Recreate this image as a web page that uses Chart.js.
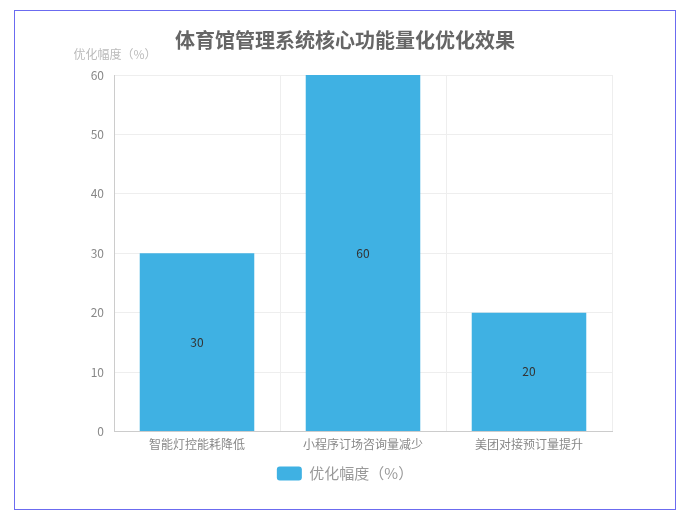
<!DOCTYPE html>
<html lang="zh">
<head>
    <meta charset="UTF-8">
    <title>体育馆管理系统核心功能量化优化效果</title>
    <script src="https://cdn.jsdelivr.net/npm/chart.js"></script>
    <style>
        body {
            margin: 0;
            padding: 0;
            background: #ffffff;
            font-family: 'Noto Sans CJK SC', sans-serif;
        }
        .box {
            position: absolute;
            left: 14px;
            top: 10px;
            width: 660px;
            height: 498px;
            border: 1px solid #6b6bf0;
        }
    </style>
</head>
<body>
    <div class="box">
        <canvas id="effectChart" width="660" height="498"></canvas>
    </div>

    <script>
        const categories = ['智能灯控能耗降低', '小程序订场咨询量减少', '美团对接预订量提升'];
        const values = [30, 60, 20];
        const seriesName = '优化幅度（%）';
        const yTicks = [0, 10, 20, 30, 40, 50, 60];

        const FONT = "'Noto Sans CJK SC', sans-serif";

        // axis name above the y axis + value labels in the middle of bars
        const extras = {
            id: 'extras',
            afterDatasetsDraw(chart) {
                const ctx = chart.ctx;
                const area = chart.chartArea;
                ctx.save();
                ctx.font = '12px ' + FONT;
                ctx.fillStyle = '#bbbbbb';
                ctx.textAlign = 'center';
                ctx.textBaseline = 'middle';
                ctx.fillText(seriesName, area.left + 1, area.top - 21);

                ctx.fillStyle = '#333333';
                chart.getDatasetMeta(0).data.forEach((bar, i) => {
                    const mid = (bar.y + bar.base) / 2;
                    ctx.fillText(String(values[i]), bar.x, mid);
                });
                ctx.restore();
            }
        };

        new Chart(document.getElementById('effectChart'), {
            type: 'bar',
            data: {
                labels: categories,
                datasets: [{
                    label: seriesName,
                    data: values,
                    backgroundColor: '#3fb1e3',
                    categoryPercentage: 0.69,
                    barPercentage: 1.0
                }]
            },
            options: {
                responsive: false,
                animation: false,
                layout: { padding: { left: 0, right: 0, top: 0, bottom: 18 } },
                plugins: {
                    title: {
                        display: true,
                        text: '体育馆管理系统核心功能量化优化效果',
                        color: '#666666',
                        font: { family: FONT, size: 20, weight: 'bold' },
                        padding: { top: 17, bottom: 23 }
                    },
                    legend: {
                        position: 'bottom',
                        labels: {
                            color: '#999999',
                            font: { family: FONT, size: 15 },
                            boxWidth: 25,
                            boxHeight: 14,
                            useBorderRadius: true,
                            borderRadius: 3,
                            padding: 8
                        }
                    },
                    tooltip: { enabled: false }
                },
                scales: {
                    x: {
                        grid: { color: '#eeeeee', offset: true, drawTicks: false },
                        border: { color: '#cccccc' },
                        ticks: { color: '#888888', font: { family: FONT, size: 12 }, padding: 6 }
                    },
                    y: {
                        min: 0,
                        max: 60,
                        afterBuildTicks(axis) {
                            axis.ticks = yTicks.map(v => ({ value: v }));
                        },
                        afterFit(axis) {
                            axis.width = 99;
                        },
                        grid: { color: '#eeeeee', drawTicks: false },
                        border: { color: '#cccccc' },
                        ticks: { color: '#888888', font: { family: FONT, size: 12 }, padding: 10 }
                    },
                    // empty spacer on the right so title/legend stay centred on the canvas
                    spacer: {
                        type: 'linear',
                        position: 'right',
                        afterFit(axis) {
                            axis.width = 63;
                        },
                        grid: { display: false, drawOnChartArea: false },
                        border: { display: false },
                        ticks: { display: false }
                    }
                }
            },
            plugins: [extras]
        });
    </script>
</body>
</html>
